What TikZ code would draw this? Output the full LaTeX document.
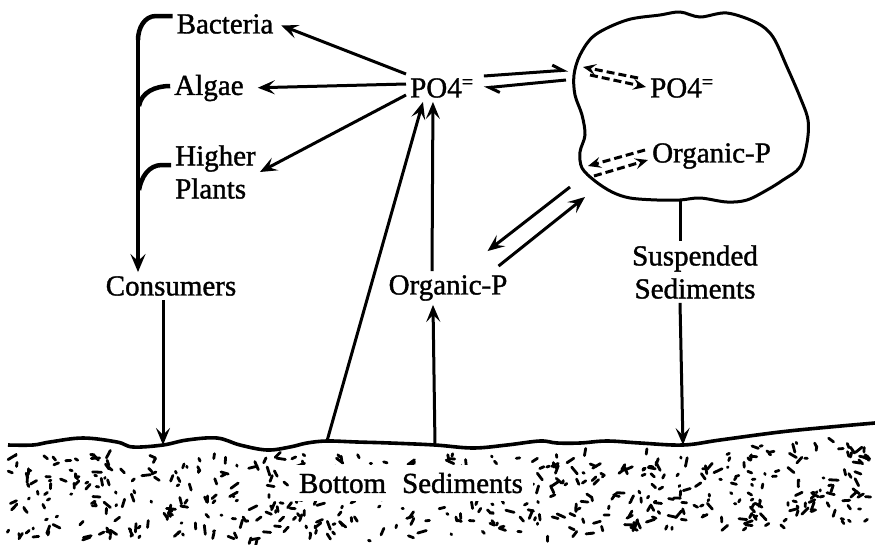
\documentclass[tikz,border=0pt]{standalone}
\usepackage{fontspec}
\setmainfont{Liberation Serif}
\newfontfamily\scanfont{Liberation Serif}[FakeBold=1.3]
\usetikzlibrary{arrows.meta}

\begin{document}
\begin{tikzpicture}[
    x=1pt, y=-1pt,
    lbl/.style={font=\scanfont\fontsize{29}{33}\selectfont, inner sep=4pt},
    arrow/.style={-{Stealth[length=17pt, width=14pt, inset=7pt]}, line width=3pt},
    harp/.style={-{Straight Barb[left, length=10pt, width=12pt]}, line width=3pt},
    dasharrow/.style={-{Stealth[length=13pt, width=11pt, inset=5pt]}, line width=3pt, dash pattern=on 8pt off 4pt},
    bracket/.style={line width=4.5pt},
    edge/.style={line width=3pt},
    speck/.style={line width=2.8pt, line cap=round}
]
    \useasboundingbox (0,0) rectangle (875,544);

    \pgfmathsetseed{11}
    \foreach \k in {1,...,560}{
        \pgfmathsetmacro\sx{8+864*rnd}
        \pgfmathsetmacro\stop{454-0.115*max(0,\sx-690)}
        \pgfmathsetmacro\sbot{\sx<460 ? 541 : 541-0.045*(\sx-460)}
        \pgfmathsetmacro\sy{\stop+(\sbot-\stop)*rnd}
        \pgfmathsetmacro\sa{360*rnd}
        \pgfmathsetmacro\sl{1+8*rnd}
        \draw[speck] (\sx,\sy) -- ++(\sa:\sl);
    }

    \node[lbl] (bacteria) at (225,24) {Bacteria};
    \node[lbl] (algae) at (209,88) {Algae};
    \node[lbl, anchor=west, align=left] (higher) at (171,172) {Higher\\Plants};
    \node[lbl, anchor=west] (po4) at (406,88) {PO4\textsuperscript{=}};
    \node[lbl, anchor=west] (po4r) at (646,88) {PO4\textsuperscript{=}};
    \node[lbl, anchor=west] (orgblob) at (648,156) {Organic-P};
    \node[lbl] (consumers) at (171,286) {Consumers};
    \node[lbl] (orgmid) at (448,288) {Organic-P};
    \node[lbl, align=center] (suspended) at (695,272) {Suspended\\Sediments};
    \node[lbl, fill=white, inner xsep=10pt, inner ysep=8pt] (bottom) at (411,483) {Bottom\hspace{.3em} Sediments};

    \draw[edge] plot[smooth cycle, tension=0.55] coordinates {(595,35) (627,20) (660,15) (680,12) (700,17) (727,13) (757,23) (773,37) (787,67) (800,97) (808,120) (807,143) (800,167) (783,180) (767,190) (747,200) (727,202) (700,198) (680,200) (657,200) (630,198) (612,192) (595,181) (582,168) (580,152) (585,135) (582,115) (575,95) (574,75) (580,55)};

    \draw[line width=3.6pt] plot[smooth, tension=0.6] coordinates {(8,445) (33,445) (50,442) (83,438) (117,442) (133,447) (163,445) (187,440) (217,438) (240,445) (267,450) (290,447) (307,443) (327,441) (357,442) (390,443) (435,445) (473,448) (507,445) (540,441) (557,443) (580,443) (607,441) (640,443) (683,445) (720,440) (780,432) (830,427) (875,423)};

    \coordinate (spine) at (138,40);
    \coordinate (blobbot) at (680,201);
    \coordinate (bl1) at (568,70);
    \coordinate (bl2) at (566,80);
    \coordinate (m1) at (570,187);
    \coordinate (m2) at (585,197);
    \coordinate (d1) at (583,67);
    \coordinate (d2) at (590,75);
    \coordinate (d3) at (588,166);
    \coordinate (d4) at (594,176);
    \coordinate (gcons) at (163,445);
    \coordinate (gslant) at (327,441);
    \coordinate (gvert) at (435,445);
    \coordinate (gsusp) at (683,445);

    \draw[bracket] ([yshift=8pt]bacteria.west) -- (156,16) to[out=180, in=90] (spine);
    \draw[bracket] ([yshift=2pt]algae.west) to[out=180, in=80] (139,106);
    \draw[bracket] ([yshift=7pt]higher.west) -- (162,165) to[out=180, in=80] (139,190);
    \draw[bracket, -{Stealth[length=18pt, width=15pt, inset=7pt]}] (spine) -- (spine |- consumers.north);

    \draw[arrow, shorten >=4pt] ([yshift=14pt]po4.west) -- (bacteria.east);
    \draw[arrow, shorten >=10pt] ([yshift=4pt]po4.west) -- (algae.east);
    \draw[arrow] ([yshift=-7pt]po4.west) -- (higher.east);

    \draw[harp] ([xshift=6pt, yshift=12pt]po4.east) -- (bl1);
    \draw[harp] (bl2) -- ([xshift=6pt, yshift=0pt]po4.east);

    \draw[dasharrow] ([xshift=-8pt, yshift=10pt]po4r.west) -- (d1);
    \draw[dasharrow] (d2) -- ([yshift=1pt]po4r.west);
    \draw[dasharrow] ([xshift=-3pt, yshift=6pt]orgblob.west) -- (d3);
    \draw[dasharrow] (d4) -- ([yshift=-4pt]orgblob.west);

    \draw[arrow] (m1) -- ([xshift=-24pt, yshift=20pt]orgmid.north east);
    \draw[arrow] ([xshift=-13pt, yshift=5pt]orgmid.north east) -- (m2);

    \draw[arrow] (gslant) -- ([xshift=-19pt]po4.south);
    \draw[arrow] ([xshift=-16pt]orgmid.north) -- ([xshift=-9pt]po4.south);
    \draw[arrow] (gvert) -- ([xshift=-15pt]orgmid.south);
    \draw[arrow] ([xshift=-8pt]consumers.south) -- (gcons);

    \draw[edge] (blobbot) -- ([xshift=-15pt]suspended.north);
    \draw[arrow] ([xshift=-15pt]suspended.south) -- (gsusp);
\end{tikzpicture}
\end{document}
